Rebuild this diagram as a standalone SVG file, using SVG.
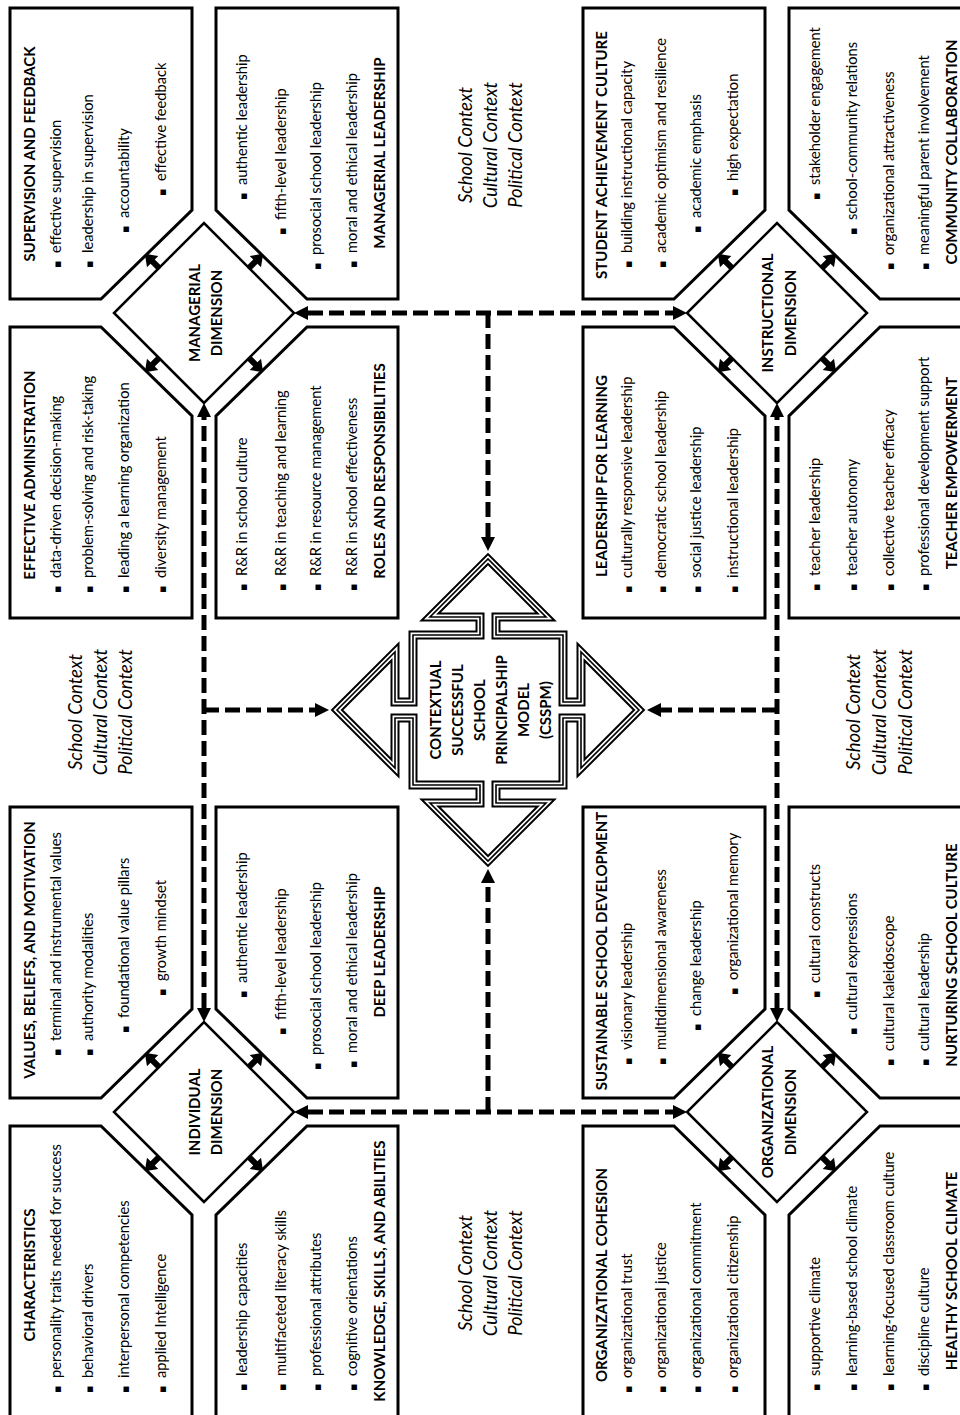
<svg xmlns="http://www.w3.org/2000/svg" width="960" height="1415" viewBox="0 0 960 1415">
<style>
.box{fill:#fff;stroke:#000;stroke-width:3;stroke-linejoin:miter}
.dia{fill:#fff;stroke:#000;stroke-width:2.5}
.t{font-family:Lato,'Liberation Sans',sans-serif;font-size:14.7px;fill:#000}
.bl{font-family:'DejaVu Sans',sans-serif;font-size:11px}
.h{font-family:Lato,'Liberation Sans',sans-serif;font-size:15px;font-weight:700;text-anchor:middle;fill:#000}
.c{font-family:Lato,'Liberation Sans',sans-serif;font-size:18.5px;font-style:italic;text-anchor:middle;fill:#000}
.dash{fill:none;stroke:#000;stroke-width:5;stroke-dasharray:15 6}
.core1{fill:#fff;stroke:#000;stroke-width:9;stroke-linejoin:miter;stroke-miterlimit:10}
.core2{fill:none;stroke:#fff;stroke-width:5;stroke-linejoin:miter;stroke-miterlimit:10}
.core3{fill:none;stroke:#000;stroke-width:1.6;stroke-linejoin:miter;stroke-miterlimit:10}
</style>
<defs>
<marker id="ah" viewBox="0 0 14 14" refX="0" refY="7" markerWidth="14" markerHeight="14" markerUnits="userSpaceOnUse" orient="auto-start-reverse"><path d="M0,0 L14,7 L0,14 Z" fill="#000"/></marker>
<path id="sa" d="M-1,-3 L9,-3 L9,-8 L20,0 L9,8 L9,3 L-1,3 Z" fill="#000"/>
<path id="corepath" d="M0,-151 L58,-93 L8,-93 L8,-75 L75,-75 L75,-8 L93,-8 L93,-58 L151,0 L93,58 L93,8 L75,8 L75,75 L8,75 L8,93 L58,93 L0,151 L-58,93 L-8,93 L-8,75 L-75,75 L-75,8 L-93,8 L-93,58 L-151,0 L-93,-58 L-93,-8 L-75,-8 L-75,-75 L-8,-75 L-8,-93 L-58,-93 Z"/>
</defs>
<rect width="960" height="1415" fill="#fff"/>
<g transform="translate(0,1415) rotate(-90)">

<g id="connectors">
<path class="dash" d="M407,204 L998,204" marker-start="url(#ah)" marker-end="url(#ah)"/>
<path class="dash" d="M407,777 L998,777" marker-start="url(#ah)" marker-end="url(#ah)"/>
<path class="dash" d="M1102,308 L1102,673" marker-start="url(#ah)" marker-end="url(#ah)"/>
<path class="dash" d="M303,308 L303,673" marker-start="url(#ah)" marker-end="url(#ah)"/>
<path class="dash" d="M705,204 L705,315" marker-end="url(#ah)"/>
<path class="dash" d="M705,777 L705,661" marker-end="url(#ah)"/>
<path class="dash" d="M1102,488 L878,488" marker-end="url(#ah)"/>
<path class="dash" d="M303,488 L532,488" marker-end="url(#ah)"/>
</g>

<g id="core">
<use href="#corepath" class="core1" transform="translate(705,488)"/>
<use href="#corepath" class="core2" transform="translate(705,488)"/>
<use href="#corepath" class="core3" transform="translate(705,488)"/>
<text class="h" x="705" y="441">CONTEXTUAL</text>
<text class="h" x="705" y="463">SUCCESSFUL</text>
<text class="h" x="705" y="485">SCHOOL</text>
<text class="h" x="705" y="507">PRINCIPALSHIP</text>
<text class="h" x="705" y="529">MODEL</text>
<text class="h" x="705" y="551">(CSSPM)</text>
</g>

<g id="context">
<text class="c" x="142" y="472">School Context</text>
<text class="c" x="142" y="497">Cultural Context</text>
<text class="c" x="142" y="522">Political Context</text>
<text class="c" x="1270" y="472">School Context</text>
<text class="c" x="1270" y="497">Cultural Context</text>
<text class="c" x="1270" y="522">Political Context</text>
<text class="c" x="703" y="82">School Context</text>
<text class="c" x="703" y="107">Cultural Context</text>
<text class="c" x="703" y="132">Political Context</text>
<text class="c" x="703" y="860">School Context</text>
<text class="c" x="703" y="886">Cultural Context</text>
<text class="c" x="703" y="912">Political Context</text>
</g>

<!-- Individual cluster -->
<g id="individual-dimension">
<polygon class="dia" points="213,204 303,114 393,204 303,294"/>
<text class="h" x="303" y="200">INDIVIDUAL</text>
<text class="h" x="303" y="222">DIMENSION</text>
<use href="#sa" transform="translate(348,159) rotate(-45)"/>
<use href="#sa" transform="translate(258,159) rotate(-135)"/>
<use href="#sa" transform="translate(348,249) rotate(45)"/>
<use href="#sa" transform="translate(258,249) rotate(135)"/>
</g>
<g id="characteristics">
<polygon class="box" points="-2,10 289,10 289,101 200,192 -2,192"/>
<text class="h" x="140" y="35">CHARACTERISTICS</text>
<text class="t" x="22" y="61"><tspan class="bl">▪</tspan><tspan x="37">personality traits needed for success</tspan></text>
<text class="t" x="22" y="93"><tspan class="bl">▪</tspan><tspan x="37">behavioral drivers</tspan></text>
<text class="t" x="22" y="129"><tspan class="bl">▪</tspan><tspan x="37">interpersonal competencies</tspan></text>
<text class="t" x="22" y="166"><tspan class="bl">▪</tspan><tspan x="37">applied Intelligence</tspan></text>
</g>
<g id="values">
<polygon class="box" points="317,10 608,10 608,192 406,192 317,101"/>
<text class="h" x="465" y="35">VALUES, BELIEFS, AND MOTIVATION</text>
<text class="t" x="359" y="61"><tspan class="bl">▪</tspan><tspan x="374">terminal and instrumental values</tspan></text>
<text class="t" x="359" y="93"><tspan class="bl">▪</tspan><tspan x="374">authority modalities</tspan></text>
<text class="t" x="382" y="129"><tspan class="bl">▪</tspan><tspan x="397">foundational value pillars</tspan></text>
<text class="t" x="419" y="166"><tspan class="bl">▪</tspan><tspan x="434">growth mindset</tspan></text>
</g>
<g id="knowledge-skills-abilities">
<polygon class="box" points="-2,216 200,216 289,307 289,398 -2,398"/>
<text class="t" x="24" y="247"><tspan class="bl">▪</tspan><tspan x="39">leadership capacities</tspan></text>
<text class="t" x="24" y="286"><tspan class="bl">▪</tspan><tspan x="39">multifaceted literacy skills</tspan></text>
<text class="t" x="24" y="321"><tspan class="bl">▪</tspan><tspan x="39">professional attributes</tspan></text>
<text class="t" x="24" y="357"><tspan class="bl">▪</tspan><tspan x="39">cognitive orientations</tspan></text>
<text class="h" x="144" y="385">KNOWLEDGE, SKILLS, AND ABILITIES</text>
</g>
<g id="deep-leadership">
<polygon class="box" points="406,216 608,216 608,398 317,398 317,307"/>
<text class="t" x="417" y="247"><tspan class="bl">▪</tspan><tspan x="432">authentic leadership</tspan></text>
<text class="t" x="380" y="286"><tspan class="bl">▪</tspan><tspan x="395">fifth-level leadership</tspan></text>
<text class="t" x="345" y="321"><tspan class="bl">▪</tspan><tspan x="360">prosocial school leadership</tspan></text>
<text class="t" x="347" y="357"><tspan class="bl">▪</tspan><tspan x="362">moral and ethical leadership</tspan></text>
<text class="h" x="463" y="385">DEEP LEADERSHIP</text>
</g>

<!-- Managerial cluster -->
<g id="managerial-dimension">
<polygon class="dia" points="1012,204 1102,114 1192,204 1102,294"/>
<text class="h" x="1102" y="200">MANAGERIAL</text>
<text class="h" x="1102" y="222">DIMENSION</text>
<use href="#sa" transform="translate(1147,159) rotate(-45)"/>
<use href="#sa" transform="translate(1057,159) rotate(-135)"/>
<use href="#sa" transform="translate(1147,249) rotate(45)"/>
<use href="#sa" transform="translate(1057,249) rotate(135)"/>
</g>
<g id="effective-administration">
<polygon class="box" points="797,10 1088,10 1088,101 999,192 797,192"/>
<text class="h" x="940" y="35">EFFECTIVE ADMINISTRATION</text>
<text class="t" x="822" y="61"><tspan class="bl">▪</tspan><tspan x="837">data-driven decision-making</tspan></text>
<text class="t" x="822" y="93"><tspan class="bl">▪</tspan><tspan x="837">problem-solving and risk-taking</tspan></text>
<text class="t" x="822" y="129"><tspan class="bl">▪</tspan><tspan x="837">leading a learning organization</tspan></text>
<text class="t" x="822" y="166"><tspan class="bl">▪</tspan><tspan x="837">diversity management</tspan></text>
</g>
<g id="supervision-feedback">
<polygon class="box" points="1116,10 1407,10 1407,192 1205,192 1116,101"/>
<text class="h" x="1261" y="35">SUPERVISION AND FEEDBACK</text>
<text class="t" x="1147" y="61"><tspan class="bl">▪</tspan><tspan x="1162">effective supervision</tspan></text>
<text class="t" x="1147" y="93"><tspan class="bl">▪</tspan><tspan x="1162">leadership in supervision</tspan></text>
<text class="t" x="1182" y="129"><tspan class="bl">▪</tspan><tspan x="1197">accountability</tspan></text>
<text class="t" x="1219" y="166"><tspan class="bl">▪</tspan><tspan x="1234">effective feedback</tspan></text>
</g>
<g id="roles-responsibilities">
<polygon class="box" points="797,216 999,216 1088,307 1088,398 797,398"/>
<text class="t" x="824" y="247"><tspan class="bl">▪</tspan><tspan x="839">R&amp;R in school culture</tspan></text>
<text class="t" x="824" y="286"><tspan class="bl">▪</tspan><tspan x="839">R&amp;R in teaching and learning</tspan></text>
<text class="t" x="824" y="321"><tspan class="bl">▪</tspan><tspan x="839">R&amp;R in resource management</tspan></text>
<text class="t" x="824" y="357"><tspan class="bl">▪</tspan><tspan x="839">R&amp;R in school effectiveness</tspan></text>
<text class="h" x="944" y="385">ROLES AND RESPONSIBILITIES</text>
</g>
<g id="managerial-leadership">
<polygon class="box" points="1205,216 1407,216 1407,398 1116,398 1116,307"/>
<text class="t" x="1215" y="247"><tspan class="bl">▪</tspan><tspan x="1230">authentic leadership</tspan></text>
<text class="t" x="1180" y="286"><tspan class="bl">▪</tspan><tspan x="1195">fifth-level leadership</tspan></text>
<text class="t" x="1145" y="321"><tspan class="bl">▪</tspan><tspan x="1160">prosocial school leadership</tspan></text>
<text class="t" x="1147" y="357"><tspan class="bl">▪</tspan><tspan x="1162">moral and ethical leadership</tspan></text>
<text class="h" x="1262" y="385">MANAGERIAL LEADERSHIP</text>
</g>

<!-- Organizational cluster -->
<g id="organizational-dimension">
<polygon class="dia" points="213,777 303,687 393,777 303,867"/>
<text class="h" x="303" y="773">ORGANIZATIONAL</text>
<text class="h" x="303" y="796">DIMENSION</text>
<use href="#sa" transform="translate(348,732) rotate(-45)"/>
<use href="#sa" transform="translate(258,732) rotate(-135)"/>
<use href="#sa" transform="translate(348,822) rotate(45)"/>
<use href="#sa" transform="translate(258,822) rotate(135)"/>
</g>
<g id="organizational-cohesion">
<polygon class="box" points="-2,583 289,583 289,674 200,765 -2,765"/>
<text class="h" x="140" y="607">ORGANIZATIONAL COHESION</text>
<text class="t" x="22" y="632"><tspan class="bl">▪</tspan><tspan x="37">organizational trust</tspan></text>
<text class="t" x="22" y="666"><tspan class="bl">▪</tspan><tspan x="37">organizational justice</tspan></text>
<text class="t" x="22" y="701"><tspan class="bl">▪</tspan><tspan x="37">organizational commitment</tspan></text>
<text class="t" x="22" y="738"><tspan class="bl">▪</tspan><tspan x="37">organizational citizenship</tspan></text>
</g>
<g id="sustainable-school-development">
<polygon class="box" points="317,583 608,583 608,765 406,765 317,674"/>
<text class="h" x="464" y="607">SUSTAINABLE SCHOOL DEVELOPMENT</text>
<text class="t" x="350" y="632"><tspan class="bl">▪</tspan><tspan x="365">visionary leadership</tspan></text>
<text class="t" x="350" y="666"><tspan class="bl">▪</tspan><tspan x="365">multidimensional awareness</tspan></text>
<text class="t" x="384" y="701"><tspan class="bl">▪</tspan><tspan x="399">change leadership</tspan></text>
<text class="t" x="420" y="738"><tspan class="bl">▪</tspan><tspan x="435">organizational memory</tspan></text>
</g>
<g id="healthy-school-climate">
<polygon class="box" points="-2,789 200,789 289,880 289,971 -2,971"/>
<text class="t" x="24" y="820"><tspan class="bl">▪</tspan><tspan x="39">supportive climate</tspan></text>
<text class="t" x="24" y="857"><tspan class="bl">▪</tspan><tspan x="39">learning-based school climate</tspan></text>
<text class="t" x="24" y="894"><tspan class="bl">▪</tspan><tspan x="39">learning-focused classroom culture</tspan></text>
<text class="t" x="24" y="929"><tspan class="bl">▪</tspan><tspan x="39">discipline culture</tspan></text>
<text class="h" x="144" y="957">HEALTHY SCHOOL CLIMATE</text>
</g>
<g id="nurturing-school-culture">
<polygon class="box" points="406,789 608,789 608,971 317,971 317,880"/>
<text class="t" x="417" y="820"><tspan class="bl">▪</tspan><tspan x="432">cultural constructs</tspan></text>
<text class="t" x="380" y="857"><tspan class="bl">▪</tspan><tspan x="395">cultural expressions</tspan></text>
<text class="t" x="349" y="894"><tspan class="bl">▪</tspan><tspan x="364">cultural kaleidoscope</tspan></text>
<text class="t" x="349" y="929"><tspan class="bl">▪</tspan><tspan x="364">cultural leadership</tspan></text>
<text class="h" x="460" y="957">NURTURING SCHOOL CULTURE</text>
</g>

<!-- Instructional cluster -->
<g id="instructional-dimension">
<polygon class="dia" points="1012,777 1102,687 1192,777 1102,867"/>
<text class="h" x="1102" y="773">INSTRUCTIONAL</text>
<text class="h" x="1102" y="796">DIMENSION</text>
<use href="#sa" transform="translate(1147,732) rotate(-45)"/>
<use href="#sa" transform="translate(1057,732) rotate(-135)"/>
<use href="#sa" transform="translate(1147,822) rotate(45)"/>
<use href="#sa" transform="translate(1057,822) rotate(135)"/>
</g>
<g id="leadership-for-learning">
<polygon class="box" points="797,583 1088,583 1088,674 999,765 797,765"/>
<text class="h" x="939" y="607">LEADERSHIP FOR LEARNING</text>
<text class="t" x="822" y="632"><tspan class="bl">▪</tspan><tspan x="837">culturally responsive leadership</tspan></text>
<text class="t" x="822" y="666"><tspan class="bl">▪</tspan><tspan x="837">democratic school leadership</tspan></text>
<text class="t" x="822" y="701"><tspan class="bl">▪</tspan><tspan x="837">social justice leadership</tspan></text>
<text class="t" x="822" y="738"><tspan class="bl">▪</tspan><tspan x="837">instructional leadership</tspan></text>
</g>
<g id="student-achievement-culture">
<polygon class="box" points="1116,583 1407,583 1407,765 1205,765 1116,674"/>
<text class="h" x="1260" y="607">STUDENT ACHIEVEMENT CULTURE</text>
<text class="t" x="1147" y="632"><tspan class="bl">▪</tspan><tspan x="1162">building instructional capacity</tspan></text>
<text class="t" x="1147" y="666"><tspan class="bl">▪</tspan><tspan x="1162">academic optimism and resilience</tspan></text>
<text class="t" x="1182" y="701"><tspan class="bl">▪</tspan><tspan x="1197">academic emphasis</tspan></text>
<text class="t" x="1219" y="738"><tspan class="bl">▪</tspan><tspan x="1234">high expectation</tspan></text>
</g>
<g id="teacher-empowerment">
<polygon class="box" points="797,789 999,789 1088,880 1088,971 797,971"/>
<text class="t" x="824" y="820"><tspan class="bl">▪</tspan><tspan x="839">teacher leadership</tspan></text>
<text class="t" x="824" y="857"><tspan class="bl">▪</tspan><tspan x="839">teacher autonomy</tspan></text>
<text class="t" x="824" y="894"><tspan class="bl">▪</tspan><tspan x="839">collective teacher efficacy</tspan></text>
<text class="t" x="824" y="929"><tspan class="bl">▪</tspan><tspan x="839">professional development support</tspan></text>
<text class="h" x="942" y="957">TEACHER EMPOWERMENT</text>
</g>
<g id="community-collaboration">
<polygon class="box" points="1205,789 1407,789 1407,971 1116,971 1116,880"/>
<text class="t" x="1215" y="820"><tspan class="bl">▪</tspan><tspan x="1230">stakeholder engagement</tspan></text>
<text class="t" x="1180" y="857"><tspan class="bl">▪</tspan><tspan x="1195">school-community relations</tspan></text>
<text class="t" x="1145" y="894"><tspan class="bl">▪</tspan><tspan x="1160">organizational attractiveness</tspan></text>
<text class="t" x="1145" y="929"><tspan class="bl">▪</tspan><tspan x="1160">meaningful parent involvement</tspan></text>
<text class="h" x="1263" y="957">COMMUNITY COLLABORATION</text>
</g>

</g>
</svg>
